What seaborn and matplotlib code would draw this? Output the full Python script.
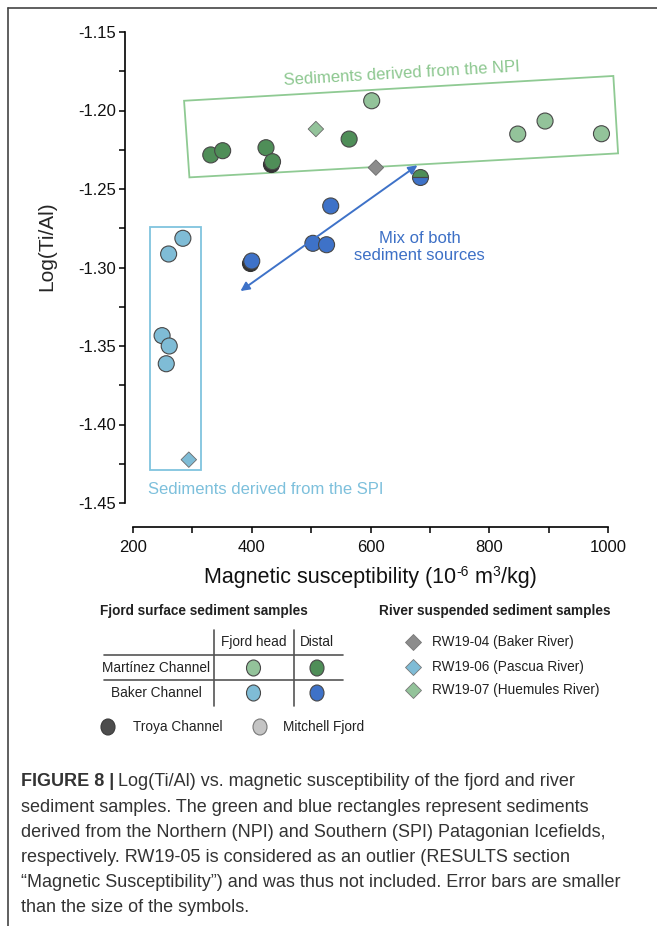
import numpy as np
import pandas as pd
import matplotlib
matplotlib.use("Agg")
import matplotlib.pyplot as plt
import seaborn as sns
from matplotlib.patches import Polygon, Ellipse
from matplotlib.lines import Line2D
import matplotlib.transforms as mtransforms

# ---------------- data ----------------
mart_head_x = [602, 848, 894, 989]
mart_head_y = [-1.1938, -1.2150, -1.2067, -1.2148]
mart_dist_x = [331, 351, 424, 435, 564]
mart_dist_y = [-1.2283, -1.2256, -1.2237, -1.2326, -1.2182]
mart_dist_troya = [False, False, False, True, False]
baker_head_x = [284, 260, 249, 261, 256]
baker_head_y = [-1.2814, -1.2914, -1.3434, -1.3500, -1.3613]
baker_dist_x = [533, 503, 526, 400]
baker_dist_y = [-1.2608, -1.2846, -1.2855, -1.2959]
baker_dist_troya = [False, False, False, True]
mixed_x = [683]
mixed_y = [-1.2425]
river_names = ["RW19-04 (Baker River)", "RW19-06 (Pascua River)", "RW19-07 (Huemules River)"]
river_x = [609, 294, 508]
river_y = [-1.2364, -1.4224, -1.2118]

npi_box_x = [286, 1009, 1017, 295]
npi_box_y = [-1.1938, -1.1780, -1.2273, -1.2426]
spi_box_x = [229, 314]
spi_box_y = [-1.4290, -1.2744]
mix_arrow_start = (679, -1.2349)
mix_arrow_end = (381, -1.3150)

x_ticks = [200, 400, 600, 800, 1000]
y_ticks = [-1.45, -1.40, -1.35, -1.30, -1.25, -1.20, -1.15]

# colours
C_LG = "#93c39a"
C_DG = "#4f8e58"
C_LB = "#7fbcd6"
C_B = "#3e72c8"
C_GR = "#8c8c8c"
EDGE = "#474747"

W, H = 657, 926
sns.set_style("ticks")
plt.rcParams["font.family"] = ["Liberation Sans", "DejaVu Sans"]
plt.rcParams["axes.unicode_minus"] = False
LEG_FS = 9.8

fig = plt.figure(figsize=(W / 100, H / 100), dpi=100)
renderer = fig.canvas.get_renderer()


def fx(px):
    return px / W


def fy(py):
    return 1 - py / H


ax = fig.add_axes([fx(133), fy(503), 475 / W, 471 / H])
ax.set_xlim(200, 1000)
ax.set_ylim(-1.45, -1.15)

# dataframe for fjord samples
rows = []
for gx, gy, g in [(mart_head_x, mart_head_y, "Martínez head"),
                  (mart_dist_x, mart_dist_y, "Martínez distal"),
                  (baker_head_x, baker_head_y, "Baker head"),
                  (baker_dist_x, baker_dist_y, "Baker distal")]:
    for a, b in zip(gx, gy):
        rows.append((a, b, g))
fjord = pd.DataFrame(rows, columns=["ms", "logtial", "group"])
river = pd.DataFrame({"ms": river_x, "logtial": river_y, "name": river_names})

pal = {"Martínez head": C_LG, "Martínez distal": C_DG, "Baker head": C_LB, "Baker distal": C_B}

# Troya shadows
tx = [x for x, t in zip(mart_dist_x, mart_dist_troya) if t] + [x for x, t in zip(baker_dist_x, baker_dist_troya) if t]
ty = [y for y, t in zip(mart_dist_y, mart_dist_troya) if t] + [y for y, t in zip(baker_dist_y, baker_dist_troya) if t]
shadow_tr = mtransforms.offset_copy(ax.transData, fig=fig, x=-1.3, y=-1.5, units="points")
ax.scatter(tx, ty, s=133, color="#333333", edgecolor="#333333", linewidth=0.8,
           transform=shadow_tr, zorder=2, clip_on=False)

sns.scatterplot(data=fjord, x="ms", y="logtial", hue="group", palette=pal, s=133,
                edgecolor=EDGE, linewidth=0.8, legend=False, ax=ax, zorder=3, clip_on=False)
sns.scatterplot(data=river, x="ms", y="logtial", hue="name",
                palette=[C_GR, C_LB, C_LG], marker="D", s=62,
                edgecolor="#6a6a6a", linewidth=0.6, legend=False, ax=ax, zorder=3)
ax.plot(mixed_x, mixed_y, "o", ms=11.5, fillstyle="top", markerfacecolor=C_DG,
        markerfacecoloralt=C_B, markeredgecolor=EDGE, mew=0.8, zorder=3)

# boxes
ax.add_patch(Polygon(list(zip(npi_box_x, npi_box_y)), closed=True, fill=False,
                     edgecolor="#8fca93", lw=1.3, clip_on=False, zorder=1))
ax.add_patch(Polygon([(spi_box_x[0], spi_box_y[0]), (spi_box_x[1], spi_box_y[0]),
                      (spi_box_x[1], spi_box_y[1]), (spi_box_x[0], spi_box_y[1])],
                     closed=True, fill=False, edgecolor="#80c4de", lw=1.3, clip_on=False, zorder=1))
ax.text(652, -1.1768, "Sediments derived from the NPI", color="#8cc78f", fontsize=12,
        rotation=3.3, ha="center", va="center", rotation_mode="anchor")
ax.text(226, -1.4417, "Sediments derived from the SPI", color="#7dc0dc", fontsize=12,
        ha="left", va="center")
ax.annotate("", xy=mix_arrow_end, xytext=mix_arrow_start,
            arrowprops=dict(arrowstyle="<|-|>", color=C_B, lw=1.4, mutation_scale=13,
                            shrinkA=0, shrinkB=0))
ax.text(683, -1.2868, "Mix of both\nsediment sources", color="#3d70c6", fontsize=12,
        ha="center", va="center", linespacing=1.15)

# axes styling
ax.set_xticks(x_ticks)
ax.set_xticks([300, 500, 700, 900], minor=True)
ax.set_xticklabels([str(v) for v in x_ticks])
ax.set_yticks(y_ticks)
ax.set_yticks([-1.425, -1.375, -1.325, -1.275, -1.225, -1.175], minor=True)
ax.set_yticklabels([f"{v:.2f}" for v in y_ticks])
ax.tick_params(axis="both", which="both", direction="out", length=4.5, width=1.1,
               color="black", labelsize=12, labelcolor="#111111")
ax.tick_params(axis="x", which="major", pad=5)
ax.tick_params(axis="y", which="major", pad=2)
for s in ["top", "right"]:
    ax.spines[s].set_visible(False)
ax.spines["left"].set_position(("outward", 5.8))
ax.spines["bottom"].set_position(("outward", 17.3))
ax.spines["left"].set_bounds(-1.45, -1.15)
ax.spines["bottom"].set_bounds(200, 1000)
for s in ["left", "bottom"]:
    ax.spines[s].set_linewidth(1.2)
    ax.spines[s].set_color("black")
ax.set_xlabel("")
ax.set_ylabel("")
fig.text(fx(47), fy(246), "Log(Ti/Al)", rotation=90, ha="center", va="center", fontsize=15)

# x label built from pieces so the superscripts use a plain hyphen
xl_pieces = [("Magnetic susceptibility (10", 15.5, 0), ("-6", 10, 7), (" m", 15.5, 0),
             ("3", 10, 7), ("/kg)", 15.5, 0)]
widths = []
for s, fs, _ in xl_pieces:
    t = fig.text(0, 0, s, fontsize=fs)
    widths.append(t.get_window_extent(renderer=renderer).width)
    t.remove()
xcur = 370.5 - sum(widths) / 2
for (s, fs, up), wpx in zip(xl_pieces, widths):
    fig.text(fx(xcur), fy(583 - up), s, fontsize=fs, ha="left", va="baseline", color="#111111")
    xcur += wpx

# ---------------- legend block ----------------
LC = "#222222"


def ltext(px, py, s, **kw):
    kw.setdefault("ha", "left")
    fig.text(fx(px), fy(py), s, fontsize=LEG_FS, va="center", color=LC, **kw)


ltext(100, 611, "Fjord surface sediment samples", weight="bold")
ltext(379, 611, "River suspended sediment samples", weight="bold")
for xv in [213.5, 293.5]:
    fig.add_artist(Line2D([fx(xv), fx(xv)], [fy(630), fy(706)], color="#555555", lw=1.2))
for yv in [655, 680]:
    fig.add_artist(Line2D([fx(104), fx(343)], [fy(yv), fy(yv)], color="#555555", lw=1.2))
ltext(254, 642, "Fjord head", ha="center")
ltext(317, 642, "Distal", ha="center")
ltext(210, 668, "Martínez Channel", ha="right")
ltext(156, 693, "Baker Channel", ha="center")
for (cx, cy, c) in [(253.5, 668, C_LG), (317, 668, C_DG), (253.5, 693, C_LB), (317, 693, C_B)]:
    fig.add_artist(Ellipse((fx(cx), fy(cy)), 14 / W, 16 / H, transform=fig.transFigure,
                           facecolor=c, edgecolor=EDGE, lw=0.8))
for (cy, c, name) in zip([642, 667, 690], [C_GR, C_LB, C_LG], river_names):
    fig.add_artist(Line2D([fx(412.7)], [fy(cy)], marker="D", ms=8.5, color=c,
                          markeredgecolor="#777777", mew=0.6, transform=fig.transFigure))
    ltext(431.5, cy, name)
fig.add_artist(Ellipse((fx(108), fy(727)), 14 / W, 16 / H, transform=fig.transFigure,
                       facecolor="#4d4d4d", edgecolor="#3a3a3a", lw=0.8))
ltext(133, 727, "Troya Channel")
fig.add_artist(Ellipse((fx(260), fy(727)), 14 / W, 16 / H, transform=fig.transFigure,
                       facecolor="#c4c4c4", edgecolor="#777777", lw=0.8))
ltext(283, 727, "Mitchell Fjord")

# frame lines
fig.add_artist(Line2D([fx(8), fx(8)], [0, fy(8)], color="#444444", lw=1.2))
fig.add_artist(Line2D([fx(8), 1], [fy(8), fy(8)], color="#444444", lw=1.2))

# ---------------- caption ----------------
CC = "#333333"
cap_lines = [
    "Log(Ti/Al) vs. magnetic susceptibility of the fjord and river",
    "sediment samples. The green and blue rectangles represent sediments",
    "derived from the Northern (NPI) and Southern (SPI) Patagonian Icefields,",
    "respectively. RW19-05 is considered as an outlier (RESULTS section",
    "\u201cMagnetic Susceptibility\u201d) and was thus not included. Error bars are smaller",
    "than the size of the symbols.",
]
cap_fs = 13
y0 = 782
dy = 25.2
bold = fig.text(fx(21), fy(y0), "FIGURE 8 |", fontsize=cap_fs, weight="bold",
                ha="left", va="center", color=CC)
bb = bold.get_window_extent(renderer=renderer)
x_after = bb.x1 / fig.dpi / fig.get_figwidth() + 4 / W
fig.text(x_after, fy(y0), cap_lines[0], fontsize=cap_fs, ha="left", va="center", color=CC)
for i, line in enumerate(cap_lines[1:], start=1):
    fig.text(fx(21), fy(y0 + i * dy), line, fontsize=cap_fs, ha="left", va="center", color=CC)

fig.savefig("out.png", dpi=100)
